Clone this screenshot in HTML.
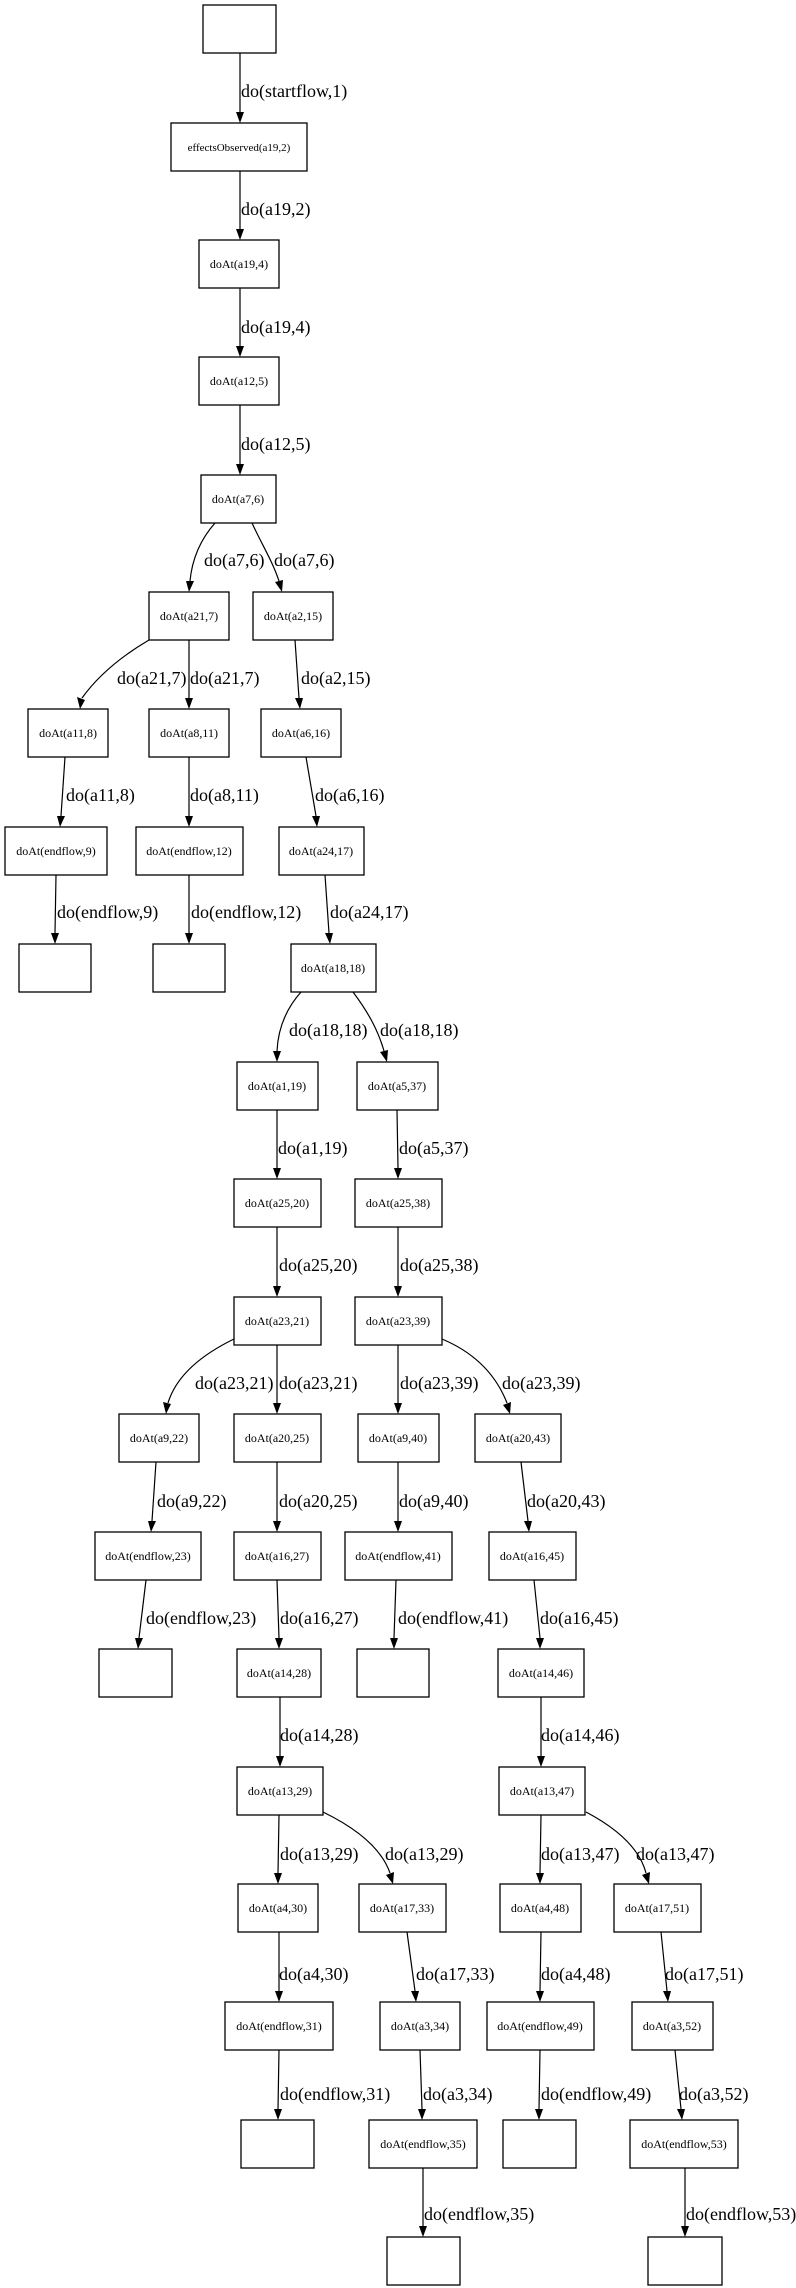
<!DOCTYPE html>
<html><head><meta charset="utf-8"><style>
html,body{margin:0;padding:0;background:#fff;}
svg{display:block;}
.n{fill:#fff;stroke:#000;stroke-width:1.3;}
.t{font-family:"Liberation Serif",serif;font-size:12px;text-anchor:middle;}
.l{font-family:"Liberation Serif",serif;font-size:18px;}
.e{fill:none;stroke:#000;stroke-width:1.2;}
</style></head><body>
<svg width="796" height="2288" viewBox="0 0 796 2288" xmlns="http://www.w3.org/2000/svg">
<!-- nodes -->
<g>
<rect class="n" x="203" y="5" width="73" height="48"/>
<rect class="n" x="171" y="123" width="136" height="48"/><text class="t" x="239" y="151" style="font-size:11px">effectsObserved(a19,2)</text>
<rect class="n" x="199" y="240" width="80" height="48"/><text class="t" x="239" y="268">doAt(a19,4)</text>
<rect class="n" x="199" y="357" width="80" height="48"/><text class="t" x="239" y="385">doAt(a12,5)</text>
<rect class="n" x="201" y="475" width="75" height="48"/><text class="t" x="238" y="503">doAt(a7,6)</text>

<rect class="n" x="149" y="592" width="80" height="48"/><text class="t" x="189" y="620">doAt(a21,7)</text>
<rect class="n" x="253" y="592" width="80" height="48"/><text class="t" x="293" y="620">doAt(a2,15)</text>

<rect class="n" x="28" y="709" width="80" height="48"/><text class="t" x="68" y="737">doAt(a11,8)</text>
<rect class="n" x="149" y="709" width="80" height="48"/><text class="t" x="189" y="737">doAt(a8,11)</text>
<rect class="n" x="261" y="709" width="80" height="48"/><text class="t" x="301" y="737">doAt(a6,16)</text>

<rect class="n" x="5" y="827" width="102" height="48"/><text class="t" x="56" y="855">doAt(endflow,9)</text>
<rect class="n" x="136" y="827" width="107" height="48"/><text class="t" x="189" y="855">doAt(endflow,12)</text>
<rect class="n" x="279" y="827" width="85" height="48"/><text class="t" x="321" y="855">doAt(a24,17)</text>

<rect class="n" x="19" y="944" width="72" height="48"/>
<rect class="n" x="153" y="944" width="72" height="48"/>
<rect class="n" x="291" y="944" width="85" height="48"/><text class="t" x="333" y="972">doAt(a18,18)</text>

<rect class="n" x="237" y="1062" width="81" height="48"/><text class="t" x="277" y="1090">doAt(a1,19)</text>
<rect class="n" x="357" y="1062" width="81" height="48"/><text class="t" x="397" y="1090">doAt(a5,37)</text>

<rect class="n" x="234" y="1179" width="87" height="48"/><text class="t" x="277" y="1207">doAt(a25,20)</text>
<rect class="n" x="355" y="1179" width="87" height="48"/><text class="t" x="398" y="1207">doAt(a25,38)</text>

<rect class="n" x="234" y="1297" width="87" height="48"/><text class="t" x="277" y="1325">doAt(a23,21)</text>
<rect class="n" x="355" y="1297" width="87" height="48"/><text class="t" x="398" y="1325">doAt(a23,39)</text>

<rect class="n" x="119" y="1414" width="80" height="48"/><text class="t" x="159" y="1442">doAt(a9,22)</text>
<rect class="n" x="234" y="1414" width="87" height="48"/><text class="t" x="277" y="1442">doAt(a20,25)</text>
<rect class="n" x="358" y="1414" width="81" height="48"/><text class="t" x="398" y="1442">doAt(a9,40)</text>
<rect class="n" x="475" y="1414" width="86" height="48"/><text class="t" x="518" y="1442">doAt(a20,43)</text>

<rect class="n" x="95" y="1532" width="106" height="48"/><text class="t" x="148" y="1560">doAt(endflow,23)</text>
<rect class="n" x="234" y="1532" width="87" height="48"/><text class="t" x="277" y="1560">doAt(a16,27)</text>
<rect class="n" x="345" y="1532" width="107" height="48"/><text class="t" x="398" y="1560">doAt(endflow,41)</text>
<rect class="n" x="489" y="1532" width="87" height="48"/><text class="t" x="532" y="1560">doAt(a16,45)</text>

<rect class="n" x="99" y="1649" width="73" height="48"/>
<rect class="n" x="237" y="1649" width="84" height="48"/><text class="t" x="279" y="1677">doAt(a14,28)</text>
<rect class="n" x="357" y="1649" width="72" height="48"/>
<rect class="n" x="498" y="1649" width="86" height="48"/><text class="t" x="541" y="1677">doAt(a14,46)</text>

<rect class="n" x="237" y="1767" width="86" height="48"/><text class="t" x="280" y="1795">doAt(a13,29)</text>
<rect class="n" x="499" y="1767" width="86" height="48"/><text class="t" x="542" y="1795">doAt(a13,47)</text>

<rect class="n" x="238" y="1884" width="80" height="48"/><text class="t" x="278" y="1912">doAt(a4,30)</text>
<rect class="n" x="359" y="1884" width="87" height="48"/><text class="t" x="402" y="1912">doAt(a17,33)</text>
<rect class="n" x="500" y="1884" width="81" height="48"/><text class="t" x="540" y="1912">doAt(a4,48)</text>
<rect class="n" x="614" y="1884" width="87" height="48"/><text class="t" x="657" y="1912">doAt(a17,51)</text>

<rect class="n" x="225" y="2002" width="108" height="48"/><text class="t" x="279" y="2030">doAt(endflow,31)</text>
<rect class="n" x="380" y="2002" width="80" height="48"/><text class="t" x="420" y="2030">doAt(a3,34)</text>
<rect class="n" x="487" y="2002" width="107" height="48"/><text class="t" x="540" y="2030">doAt(endflow,49)</text>
<rect class="n" x="632" y="2002" width="81" height="48"/><text class="t" x="672" y="2030">doAt(a3,52)</text>

<rect class="n" x="241" y="2120" width="73" height="48"/>
<rect class="n" x="369" y="2120" width="108" height="48"/><text class="t" x="423" y="2148">doAt(endflow,35)</text>
<rect class="n" x="503" y="2120" width="73" height="48"/>
<rect class="n" x="630" y="2120" width="108" height="48"/><text class="t" x="684" y="2148">doAt(endflow,53)</text>

<rect class="n" x="387" y="2237" width="73" height="48"/>
<rect class="n" x="648" y="2237" width="74" height="48"/>
</g>
<!-- edges -->
<g>
<path class="e" d="M240 53 L240 112"/><polygon points="236,112 244,112 240,123"/>
<path class="e" d="M240 171 L240 229"/><polygon points="236,229 244,229 240,240"/>
<path class="e" d="M240 288 L240 346"/><polygon points="236,346 244,346 240,357"/>
<path class="e" d="M240 405 L240 464"/><polygon points="236,464 244,464 240,475"/>
<path class="e" d="M215 523 C200 540 192 560 190 581"/><polygon points="186,581 194,581 189,592"/>
<path class="e" d="M252 523 C262 545 272 560 279 581"/><polygon points="275,582 283,580 282,592"/>

<path class="e" d="M149 640 C115 660 95 680 82 698"/><polygon points="77,697 85,700 80,709"/>
<path class="e" d="M189 640 L189 698"/><polygon points="185,698 193,698 189,709"/>
<path class="e" d="M295 640 L299 698"/><polygon points="295,698 303,698 300,709"/>

<path class="e" d="M65 757 L61 816"/><polygon points="57,816 65,816 60,827"/>
<path class="e" d="M189 757 L189 816"/><polygon points="185,816 193,816 189,827"/>
<path class="e" d="M306 757 L316 816"/><polygon points="312,816 320,816 317,827"/>

<path class="e" d="M56 875 L55 933"/><polygon points="51,933 59,933 55,944"/>
<path class="e" d="M189 875 L189 933"/><polygon points="185,933 193,933 189,944"/>
<path class="e" d="M325 875 L329 933"/><polygon points="325,933 333,933 330,944"/>

<path class="e" d="M301 992 C285 1010 278 1030 277 1051"/><polygon points="273,1051 281,1051 277,1062"/>
<path class="e" d="M353 992 C368 1012 378 1030 384 1051"/><polygon points="380,1052 388,1050 387,1062"/>

<path class="e" d="M277 1110 L277 1168"/><polygon points="273,1168 281,1168 277,1179"/>
<path class="e" d="M397 1110 L398 1168"/><polygon points="394,1168 402,1168 398,1179"/>
<path class="e" d="M277 1227 L277 1286"/><polygon points="273,1286 281,1286 277,1297"/>
<path class="e" d="M398 1227 L398 1286"/><polygon points="394,1286 402,1286 398,1297"/>

<path class="e" d="M234 1339 C195 1358 175 1380 168 1403"/><polygon points="163,1402 171,1404 166,1414"/>
<path class="e" d="M277 1345 L277 1403"/><polygon points="273,1403 281,1403 277,1414"/>
<path class="e" d="M398 1345 L398 1403"/><polygon points="394,1403 402,1403 398,1414"/>
<path class="e" d="M442 1339 C480 1355 498 1380 507 1403"/><polygon points="503,1405 511,1402 510,1414"/>

<path class="e" d="M156 1462 L152 1521"/><polygon points="148,1521 156,1521 151,1532"/>
<path class="e" d="M277 1462 L277 1521"/><polygon points="273,1521 281,1521 277,1532"/>
<path class="e" d="M398 1462 L398 1521"/><polygon points="394,1521 402,1521 398,1532"/>
<path class="e" d="M521 1462 L528 1521"/><polygon points="524,1521 532,1521 529,1532"/>

<path class="e" d="M146 1580 L139 1638"/><polygon points="135,1638 143,1638 138,1649"/>
<path class="e" d="M277 1580 L279 1638"/><polygon points="275,1638 283,1638 279,1649"/>
<path class="e" d="M396 1580 L394 1638"/><polygon points="390,1638 398,1638 394,1649"/>
<path class="e" d="M534 1580 L540 1638"/><polygon points="536,1638 544,1638 540,1649"/>

<path class="e" d="M280 1697 L280 1756"/><polygon points="276,1756 284,1756 280,1767"/>
<path class="e" d="M541 1697 L541 1756"/><polygon points="537,1756 545,1756 541,1767"/>

<path class="e" d="M279 1815 L278 1873"/><polygon points="274,1873 282,1873 278,1884"/>
<path class="e" d="M323 1812 C360 1830 382 1850 390 1873"/><polygon points="386,1875 394,1872 393,1884"/>
<path class="e" d="M541 1815 L540 1873"/><polygon points="536,1873 544,1873 540,1884"/>
<path class="e" d="M586 1812 C620 1830 640 1850 646 1873"/><polygon points="642,1875 650,1872 649,1884"/>

<path class="e" d="M279 1932 L279 1991"/><polygon points="275,1991 283,1991 279,2002"/>
<path class="e" d="M407 1932 L415 1991"/><polygon points="411,1991 419,1991 416,2002"/>
<path class="e" d="M541 1932 L540 1991"/><polygon points="536,1991 544,1991 540,2002"/>
<path class="e" d="M661 1932 L667 1991"/><polygon points="663,1991 671,1991 668,2002"/>

<path class="e" d="M279 2050 L278 2109"/><polygon points="274,2109 282,2109 278,2120"/>
<path class="e" d="M420 2050 L422 2109"/><polygon points="418,2109 426,2109 422,2120"/>
<path class="e" d="M540 2050 L539 2109"/><polygon points="535,2109 543,2109 539,2120"/>
<path class="e" d="M675 2050 L681 2109"/><polygon points="677,2109 685,2109 682,2120"/>

<path class="e" d="M423 2168 L423 2226"/><polygon points="419,2226 427,2226 423,2237"/>
<path class="e" d="M685 2168 L685 2226"/><polygon points="681,2226 689,2226 685,2237"/>
</g>
<!-- labels -->
<g class="l">
<text x="241" y="97">do(startflow,1)</text>
<text x="241" y="215">do(a19,2)</text>
<text x="241" y="333">do(a19,4)</text>
<text x="241" y="450">do(a12,5)</text>
<text x="204" y="566">do(a7,6)</text>
<text x="274" y="566">do(a7,6)</text>
<text x="117" y="684">do(a21,7)</text>
<text x="190" y="684">do(a21,7)</text>
<text x="301" y="684">do(a2,15)</text>
<text x="66" y="801">do(a11,8)</text>
<text x="190" y="801">do(a8,11)</text>
<text x="315" y="801">do(a6,16)</text>
<text x="57" y="918">do(endflow,9)</text>
<text x="191" y="918">do(endflow,12)</text>
<text x="330" y="918">do(a24,17)</text>
<text x="289" y="1036">do(a18,18)</text>
<text x="380" y="1036">do(a18,18)</text>
<text x="278" y="1154">do(a1,19)</text>
<text x="399" y="1154">do(a5,37)</text>
<text x="279" y="1271">do(a25,20)</text>
<text x="400" y="1271">do(a25,38)</text>
<text x="195" y="1389">do(a23,21)</text>
<text x="279" y="1389">do(a23,21)</text>
<text x="400" y="1389">do(a23,39)</text>
<text x="502" y="1389">do(a23,39)</text>
<text x="157" y="1507">do(a9,22)</text>
<text x="279" y="1507">do(a20,25)</text>
<text x="399" y="1507">do(a9,40)</text>
<text x="527" y="1507">do(a20,43)</text>
<text x="146" y="1624">do(endflow,23)</text>
<text x="280" y="1624">do(a16,27)</text>
<text x="398" y="1624">do(endflow,41)</text>
<text x="540" y="1624">do(a16,45)</text>
<text x="280" y="1741">do(a14,28)</text>
<text x="541" y="1741">do(a14,46)</text>
<text x="280" y="1860">do(a13,29)</text>
<text x="385" y="1860">do(a13,29)</text>
<text x="541" y="1860">do(a13,47)</text>
<text x="636" y="1860">do(a13,47)</text>
<text x="279" y="1980">do(a4,30)</text>
<text x="416" y="1980">do(a17,33)</text>
<text x="541" y="1980">do(a4,48)</text>
<text x="665" y="1980">do(a17,51)</text>
<text x="280" y="2100">do(endflow,31)</text>
<text x="423" y="2100">do(a3,34)</text>
<text x="541" y="2100">do(endflow,49)</text>
<text x="679" y="2100">do(a3,52)</text>
<text x="424" y="2220">do(endflow,35)</text>
<text x="686" y="2220">do(endflow,53)</text>
</g>
</svg>
</body></html>
